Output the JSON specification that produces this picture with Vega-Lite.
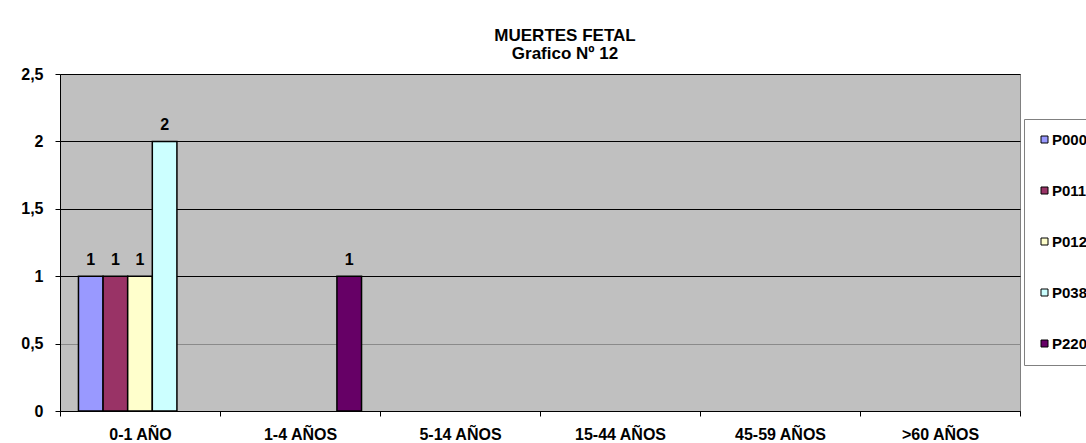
{
  "$schema": "https://vega.github.io/schema/vega-lite/v6.json",
  "width": 960,
  "height": 337,
  "autosize": {"type": "none"},
  "padding": {"left": 60, "top": 74, "right": 66, "bottom": 32},
  "background": "white",
  "config": {
    "font": "Liberation Sans",
    "view": {"fill": "#C0C0C0", "stroke": "#808080", "strokeWidth": 1}
  },
  "title": {
    "text": ["MUERTES FETAL", "Grafico Nº 12"],
    "anchor": "middle",
    "dx": 25,
    "offset": 3,
    "fontSize": 17,
    "fontWeight": "bold",
    "lineHeight": 18,
    "color": "#000000",
    "font": "Liberation Sans"
  },
  "data": {
    "values": [
      {"grupo": "0-1 AÑO", "serie": "P000", "valor": 1},
      {"grupo": "0-1 AÑO", "serie": "P011", "valor": 1},
      {"grupo": "0-1 AÑO", "serie": "P012", "valor": 1},
      {"grupo": "0-1 AÑO", "serie": "P038", "valor": 2},
      {"grupo": "0-1 AÑO", "serie": "P220", "valor": 0},
      {"grupo": "1-4 AÑOS", "serie": "P000", "valor": 0},
      {"grupo": "1-4 AÑOS", "serie": "P011", "valor": 0},
      {"grupo": "1-4 AÑOS", "serie": "P012", "valor": 0},
      {"grupo": "1-4 AÑOS", "serie": "P038", "valor": 0},
      {"grupo": "1-4 AÑOS", "serie": "P220", "valor": 1},
      {"grupo": "5-14 AÑOS", "serie": "P000", "valor": 0},
      {"grupo": "5-14 AÑOS", "serie": "P011", "valor": 0},
      {"grupo": "5-14 AÑOS", "serie": "P012", "valor": 0},
      {"grupo": "5-14 AÑOS", "serie": "P038", "valor": 0},
      {"grupo": "5-14 AÑOS", "serie": "P220", "valor": 0},
      {"grupo": "15-44 AÑOS", "serie": "P000", "valor": 0},
      {"grupo": "15-44 AÑOS", "serie": "P011", "valor": 0},
      {"grupo": "15-44 AÑOS", "serie": "P012", "valor": 0},
      {"grupo": "15-44 AÑOS", "serie": "P038", "valor": 0},
      {"grupo": "15-44 AÑOS", "serie": "P220", "valor": 0},
      {"grupo": "45-59 AÑOS", "serie": "P000", "valor": 0},
      {"grupo": "45-59 AÑOS", "serie": "P011", "valor": 0},
      {"grupo": "45-59 AÑOS", "serie": "P012", "valor": 0},
      {"grupo": "45-59 AÑOS", "serie": "P038", "valor": 0},
      {"grupo": "45-59 AÑOS", "serie": "P220", "valor": 0},
      {"grupo": ">60 AÑOS", "serie": "P000", "valor": 0},
      {"grupo": ">60 AÑOS", "serie": "P011", "valor": 0},
      {"grupo": ">60 AÑOS", "serie": "P012", "valor": 0},
      {"grupo": ">60 AÑOS", "serie": "P038", "valor": 0},
      {"grupo": ">60 AÑOS", "serie": "P220", "valor": 0}
    ]
  },
  "transform": [{"filter": "datum.valor > 0"}],
  "encoding": {
    "x": {
      "field": "grupo",
      "type": "nominal",
      "scale": {
        "domain": ["0-1 AÑO", "1-4 AÑOS", "5-14 AÑOS", "15-44 AÑOS", "45-59 AÑOS", ">60 AÑOS"],
        "paddingInner": 0,
        "paddingOuter": 0
      },
      "axis": {
        "title": null,
        "labelAngle": 0,
        "tickBand": "extent",
        "grid": false,
        "domainColor": "#000000",
        "domainWidth": 1,
        "tickColor": "#000000",
        "tickSize": 5,
        "labelFont": "Liberation Sans",
        "labelFontSize": 16,
        "labelFontWeight": "bold",
        "labelColor": "#000000",
        "labelBaseline": "alphabetic",
        "labelPadding": 23
      }
    },
    "xOffset": {
      "field": "serie",
      "type": "nominal",
      "scale": {
        "domain": ["P000", "P011", "P012", "P038", "P220"],
        "paddingInner": 0,
        "paddingOuter": 0.75
      }
    },
    "y": {
      "field": "valor",
      "type": "quantitative",
      "scale": {"domain": [0, 2.5], "nice": false, "zero": true},
      "axis": {
        "title": null,
        "values": [0, 0.5, 1, 1.5, 2, 2.5],
        "labelExpr": "replace(toString(datum.value), '.', ',')",
        "grid": true,
        "gridColor": {"condition": {"test": "datum.value === 0.5", "value": "#8a8a8a"}, "value": "#000000"},
        "gridWidth": 1,
        "domainColor": "#000000",
        "domainWidth": 1,
        "tickColor": "#000000",
        "tickSize": 5,
        "labelFont": "Liberation Sans",
        "labelFontSize": 16,
        "labelFontWeight": "bold",
        "labelColor": "#000000",
        "labelPadding": 12
      }
    }
  },
  "layer": [
    {
      "mark": {"type": "bar", "stroke": "#000000", "strokeWidth": 1.5, "opacity": 1},
      "encoding": {
        "color": {
          "field": "serie",
          "type": "nominal",
          "scale": {
            "domain": ["P000", "P011", "P012", "P038", "P220"],
            "range": ["#9999FF", "#993366", "#FFFFCC", "#CCFFFF", "#660066"]
          },
          "legend": {
            "title": null,
            "orient": "none",
            "legendX": 964,
            "legendY": 45,
            "fillColor": "#FFFFFF",
            "strokeColor": "#808080",
            "padding": 13,
            "symbolType": "square",
            "symbolSize": 49,
            "symbolStrokeColor": "#000000",
            "symbolStrokeWidth": 1,
            "labelFont": "Liberation Sans",
            "labelFontSize": 15,
            "labelFontWeight": "bold",
            "labelColor": "#000000",
            "labelOffset": 0,
            "rowPadding": 35
          }
        }
      }
    },
    {
      "mark": {
        "type": "text",
        "baseline": "alphabetic",
        "dy": -11,
        "fontSize": 16,
        "fontWeight": "bold",
        "font": "Liberation Sans",
        "color": "#000000"
      },
      "encoding": {
        "text": {"field": "valor", "type": "quantitative"}
      }
    }
  ]
}
